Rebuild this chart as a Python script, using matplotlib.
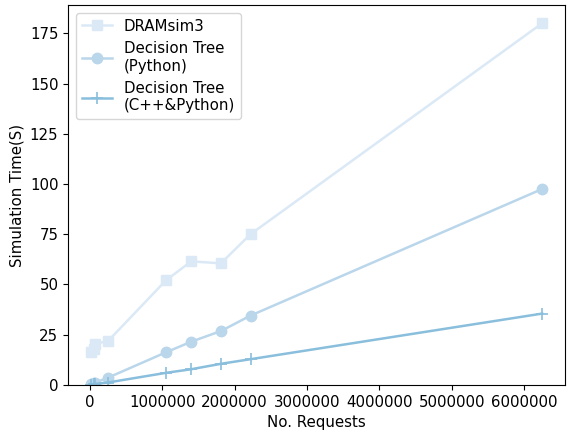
import numpy as np
import matplotlib
matplotlib.use('Agg')
import matplotlib.pyplot as plt

requests = [10000, 50000, 75000, 250000, 1050000, 1400000, 1810000, 2220000, 6250000]
dramsim3 = [16.5, 18.0, 20.5, 21.8, 52.0, 61.5, 60.5, 75.0, 180.0]
dt_python = [0.3, 0.8, 1.2, 3.6, 16.2, 21.5, 26.8, 34.5, 97.5]
dt_cpp = [0.1, 0.3, 0.5, 1.2, 6.0, 7.8, 10.5, 12.8, 35.5]

labels = ['DRAMsim3', 'Decision Tree\n(Python)', 'Decision Tree\n(C++&Python)']
colors = ['#dbe9f6', '#bad6eb', '#89bedc']

plt.rcParams['font.size'] = 10.8

fig, ax = plt.subplots(figsize=(5.67, 4.32), dpi=100)
ax.plot(requests, dramsim3, marker='s', markersize=7.5, color=colors[0], linewidth=1.8, label=labels[0])
ax.plot(requests, dt_python, marker='o', markersize=7.5, color=colors[1], linewidth=1.8, label=labels[1])
ax.plot(requests, dt_cpp, marker='+', markersize=9, markeredgewidth=1.2, color=colors[2], linewidth=1.8, label=labels[2])

ax.ticklabel_format(style='plain', axis='x')
ax.set_ylim(bottom=0)
ax.set_xlabel('No. Requests')
ax.set_ylabel('Simulation Time(S)')
ax.legend(loc='upper left')
plt.subplots_adjust(left=0.12, right=0.996, top=0.988, bottom=0.109)
plt.savefig('out.png')
